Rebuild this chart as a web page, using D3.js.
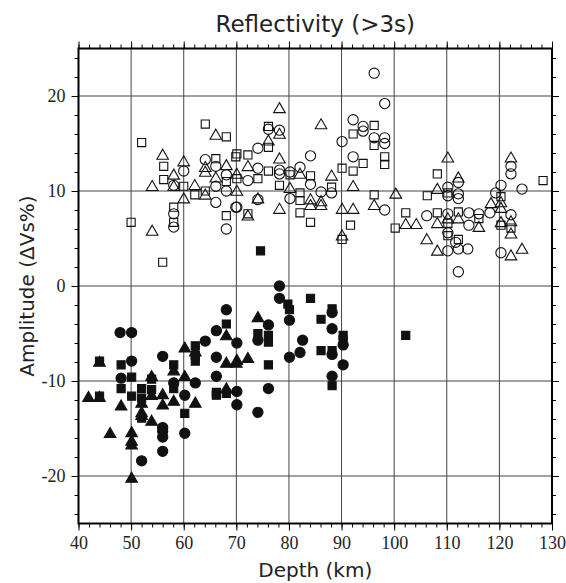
<!DOCTYPE html>
<html>
<head>
<meta charset="utf-8">
<script src="https://cdn.jsdelivr.net/npm/d3@7"></script>
<style>
  body { margin: 0; background: #fff; }
  svg { display: block; }
</style>
</head>
<body>
<div id="chart"></div>
<script>
// depth (km), amplitude (dVs %)
var openCircles = [[64.1,13.3],[60,12.1],[58.1,10.6],[66.1,12.6],[66.1,10.5],[66.1,8.8],[68.1,11.7],[68.1,10.0],[68.1,6.0],[58.1,7.6],[58.1,6.2],[69.9,8.3],
  [96.2,22.4],[98.2,19.2],[92.2,17.5],[94.1,16.8],[94.1,16.3],[90.1,15.2],[96.2,15.6],[98.2,15.6],[98.2,15.0],[92.2,13.6],[76.1,16.5],[78.2,16.4],[74.1,14.5],[84.1,13.7],[74.1,12.4],[78.2,12.2],[78.2,11.8],[80.2,12.0],[82.1,12.5],[84.1,10.7],[86.1,9.9],[88.1,9.8],[98.2,8.0],[72.2,11.1],[70.1,8.3],[80.2,9.2],[74.1,9.1],
  [112.2,10.9],[122.2,12.6],[122.2,11.8],[120.3,10.6],[124.3,10.2],[110.2,10.4],[110.2,9.5],[112.2,9.7],[112.2,9.2],[119.3,9.8],[118.2,7.7],[106.2,7.4],[110.2,7.6],[110.2,5.6],[114.2,7.7],[114.2,6.4],[116.1,7.6],[122.2,7.5],[111.7,4.6],[110.2,3.7],[112.2,3.9],[114.0,3.9],[112.2,1.5],[120.3,3.5]];

var openSquares = [[64.1,17.05],[68.1,15.7],[52.0,15.1],[56.2,12.6],[56.2,11.2],[60.0,10.5],[62.1,9.6],[64.1,10.0],[66.1,13.4],[68.1,11.0],[68.1,7.4],[58.1,8.3],[58.1,6.7],[50.0,6.7],[56.0,2.5],[69.9,13.6],
  [96.2,16.9],[92.2,16.0],[96.2,14.8],[98.2,13.6],[98.2,12.8],[94.1,12.9],[90.1,12.4],[92.2,12.1],[76.1,16.8],[76.1,14.6],[70.1,13.9],[72.2,13.8],[76.1,12.1],[80.2,11.7],[84.1,11.6],[88.1,10.4],[96.2,9.6],[70.1,11.3],[74.1,11.3],[78.2,10.6],[82.1,9.8],[82.1,9.0],[82.1,7.7],[84.1,6.7],[72.2,7.6],[91.7,6.4],[90.1,4.9],
  [108.2,11.8],[128.3,11.1],[106.3,9.5],[120.3,9.4],[102.2,7.7],[100.2,6.1],[108.2,7.7],[110.2,6.6],[110.2,5.3],[112.2,7.8],[116.1,7.1],[120.3,6.4],[122.2,6.1],[112.2,4.9],[110.2,9.8]];

var openTriangles = [[66.1,15.8],[56.0,13.7],[60.0,13.0],[58.1,11.6],[54.0,10.4],[58.1,10.4],[62.1,10.5],[64.1,9.5],[64.1,12.4],[64.1,11.9],[66.1,11.3],[68.1,12.6],[60.0,9.1],[54.0,5.7],
  [78.2,18.6],[86.1,16.9],[78.2,15.9],[76.1,15.2],[78.2,13.3],[72.2,12.5],[82.1,11.7],[88.1,11.5],[92.2,10.4],[96.2,8.4],[70.1,11.7],[70.1,9.9],[80.2,10.2],[84.1,9.0],[84.1,8.4],[86.1,8.8],[86.1,8.4],[74.1,9.1],[78.2,8.0],[72.2,7.3],[90.1,8.0],[92.2,8.0],[90.1,5.2],
  [110.2,13.4],[112.2,11.3],[122.2,13.4],[100.3,9.6],[108.2,10.1],[120.3,8.7],[118.4,8.6],[120.3,8.1],[102.2,6.4],[104.2,6.4],[108.2,6.5],[110.2,7.0],[112.2,7.0],[116.1,6.1],[122.2,6.7],[122.2,5.4],[106.2,4.8],[108.2,3.6],[122.2,3.1],[124.3,3.8],[120.3,6.6]];

var filledCircles = [[68.1,-2.5],[66.2,-4.7],[64.1,-5.8],[70.1,-6.0],[66.2,-7.5],[47.9,-4.9],[50.1,-4.9],[50.1,-7.9],[48.1,-9.7],[56.0,-7.4],[58.1,-10.2],[60.2,-11.5],[62.2,-10.2],[56.0,-14.9],[56.0,-15.3],[56.0,-15.9],[56.0,-17.4],[60.2,-15.5],[52.0,-18.4],[66.2,-9.5],[70.1,-11.1],[70.1,-12.5],
  [78.2,0.0],[78.2,-1.3],[80.1,-3.6],[88.2,-2.8],[88.2,-4.5],[74.1,-5.7],[76.1,-4.1],[82.6,-5.7],[82.1,-7.0],[80.1,-7.5],[88.2,-7.2],[90.3,-6.2],[90.3,-8.3],[88.2,-9.5],[76.1,-10.8],[74.1,-13.3]];

var filledSquares = [[68.1,-4.0],[62.2,-6.3],[62.2,-7.3],[62.2,-7.9],[50.1,-9.6],[48.1,-8.3],[44.0,-7.9],[48.1,-10.8],[50.1,-11.6],[44.0,-11.6],[52.0,-10.8],[52.0,-11.8],[53.9,-9.8],[53.9,-10.9],[52.0,-13.9],[58.1,-8.3],[58.1,-10.8],[60.2,-13.4],[66.2,-11.2],[66.2,-11.5],[68.1,-11.3],
  [84.1,-1.3],[79.8,-1.9],[80.1,-2.5],[86.1,-3.5],[88.2,-2.4],[74.1,-5.0],[76.1,-5.2],[76.1,-5.9],[86.1,-6.8],[88.2,-6.8],[90.3,-5.2],[90.3,-5.7],[88.2,-10.5],[76.1,-8.3],[102.2,-5.2],[74.6,3.7]];

var filledTriangles = [[68.1,-5.3],[60.2,-6.6],[62.2,-7.0],[70.1,-7.9],[68.1,-8.2],[44.0,-8.1],[41.9,-11.8],[44.0,-11.8],[48.1,-12.7],[52.0,-12.4],[53.9,-9.6],[53.9,-11.6],[52.0,-13.4],[52.0,-13.7],[53.9,-14.3],[56.0,-11.5],[56.0,-12.6],[58.1,-9.0],[60.2,-9.6],[58.1,-12.2],[62.2,-12.4],[46.0,-15.6],[50.1,-15.5],[50.1,-16.4],[50.1,-16.8],[50.1,-20.3],[68.1,-10.9],
  [74.1,-3.4],[72.2,-7.7],[70.0,-8.2]];

var xTicks = [40, 50, 60, 70, 80, 90, 100, 110, 120, 130];
var yTicks = [-20, -10, 0, 10, 20];

var W = 566, H = 583;
var margin = {top: 48.5, right: 14, bottom: 59.5, left: 78.5};
var w = W - margin.left - margin.right,
    h = H - margin.top - margin.bottom;

var svg = d3.select('#chart').append('svg').attr('width', W).attr('height', H);
var g = svg.append('g').attr('transform', 'translate(' + margin.left + ',' + margin.top + ')');

var x = d3.scaleLinear().domain([40, 130]).range([0, w]);
var y = d3.scaleLinear().domain([-25, 25]).range([h, 0]);

// grid
g.append('g').selectAll('line').data(xTicks.slice(1, -1)).join('line')
  .attr('x1', function (d) { return x(d); }).attr('x2', function (d) { return x(d); })
  .attr('y1', 0).attr('y2', h)
  .attr('stroke', '#444').attr('stroke-width', 1);
g.append('g').selectAll('line').data(yTicks).join('line')
  .attr('x1', 0).attr('x2', w)
  .attr('y1', function (d) { return y(d); }).attr('y2', function (d) { return y(d); })
  .attr('stroke', '#444').attr('stroke-width', 1);

// symbols
var sym = {
  circle: d3.symbol().type(d3.symbolCircle).size(82),
  square: d3.symbol().type(d3.symbolSquare).size(66),
  triangle: d3.symbol().type(d3.symbolTriangle).size(58)
};

function drawSet(data, shape, filled) {
  g.append('g').selectAll('path').data(data).join('path')
    .attr('d', sym[shape])
    .attr('transform', function (d) { return 'translate(' + x(d[0]) + ',' + y(d[1]) + ')'; })
    .attr('fill', filled ? '#111' : 'none')
    .attr('stroke', '#111')
    .attr('stroke-width', 1.1);
}

drawSet(openSquares, 'square', false);
drawSet(openTriangles, 'triangle', false);
drawSet(openCircles, 'circle', false);
drawSet(filledSquares, 'square', true);
drawSet(filledTriangles, 'triangle', true);
drawSet(filledCircles, 'circle', true);

// axes / frame
var minorX = d3.range(40, 131, 2), minorY = d3.range(-24, 25, 2);
function styleAxis(sel) {
  sel.select('.domain').remove();
  sel.selectAll('.tick line').attr('stroke', '#000');
}
var tickFont = '"Liberation Serif", "DejaVu Serif", serif';
var plain = function (d) { return String(d); };

g.append('g').attr('transform', 'translate(0,' + h + ')')
  .call(d3.axisBottom(x).tickValues(minorX).tickSize(4).tickFormat('')).call(styleAxis);
g.append('g').attr('transform', 'translate(0,' + h + ')')
  .call(d3.axisBottom(x).tickValues(xTicks).tickSize(7).tickPadding(6).tickFormat(plain))
  .call(styleAxis)
  .selectAll('text').attr('font-family', tickFont).attr('font-size', 18).attr('fill', '#222');
g.append('g')
  .call(d3.axisTop(x).tickValues(minorX).tickSize(4).tickFormat('')).call(styleAxis);
g.append('g')
  .call(d3.axisTop(x).tickValues(xTicks).tickSize(7).tickFormat('')).call(styleAxis);

g.append('g')
  .call(d3.axisLeft(y).tickValues(minorY).tickSize(4).tickFormat('')).call(styleAxis);
g.append('g')
  .call(d3.axisLeft(y).tickValues(yTicks).tickSize(7).tickPadding(6).tickFormat(plain))
  .call(styleAxis)
  .selectAll('text').attr('font-family', tickFont).attr('font-size', 18).attr('fill', '#222');
g.append('g').attr('transform', 'translate(' + w + ',0)')
  .call(d3.axisRight(y).tickValues(minorY).tickSize(4).tickFormat('')).call(styleAxis);
g.append('g').attr('transform', 'translate(' + w + ',0)')
  .call(d3.axisRight(y).tickValues(yTicks).tickSize(7).tickFormat('')).call(styleAxis);

g.append('rect').attr('width', w).attr('height', h)
  .attr('fill', 'none').attr('stroke', '#000').attr('stroke-width', 2);

// labels
var labelFont = '"DejaVu Sans", "Noto Sans", sans-serif';
svg.append('text')
  .attr('x', margin.left + w / 2).attr('y', 32)
  .attr('text-anchor', 'middle')
  .attr('font-family', labelFont).attr('font-size', 23).attr('fill', '#222')
  .text('Reflectivity (>3s)');
svg.append('text')
  .attr('x', margin.left + w / 2).attr('y', 577)
  .attr('text-anchor', 'middle')
  .attr('font-family', labelFont).attr('font-size', 20).attr('fill', '#222')
  .text('Depth (km)');
svg.append('text')
  .attr('transform', 'translate(34,' + (margin.top + h / 2) + ') rotate(-90)')
  .attr('text-anchor', 'middle')
  .attr('font-family', labelFont).attr('font-size', 20).attr('fill', '#222')
  .text('Amplitude (ΔVs%)');
</script>
</body>
</html>
